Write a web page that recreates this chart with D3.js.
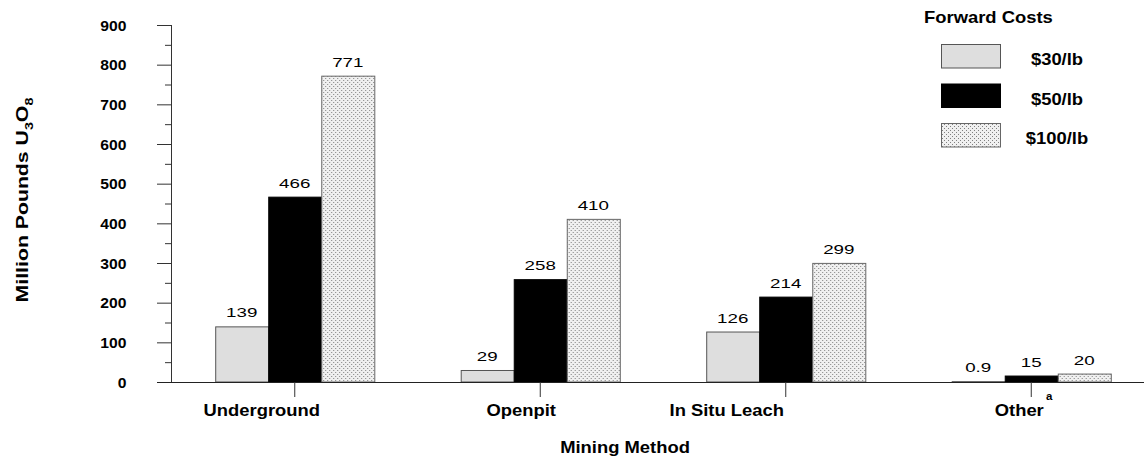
<!DOCTYPE html>
<html>
<head>
<meta charset="utf-8">
<script src="https://cdn.jsdelivr.net/npm/d3@7"></script>
<style>
  html, body { margin: 0; padding: 0; background: #fff; }
  svg { display: block; font-family: "Liberation Sans", Arial, sans-serif; }
</style>
</head>
<body>
<svg id="chart" width="1144" height="459"></svg>
<script>
// ---- data ----
const categories = ["Underground", "Openpit", "In Situ Leach", "Other"];
const seriesNames = ["$30/lb", "$50/lb", "$100/lb"];
const cost30 = [139, 29, 126, 0.9];
const cost50 = [466, 258, 214, 15];
const cost100 = [771, 410, 299, 20];
const yTicks = [0, 100, 200, 300, 400, 500, 600, 700, 800, 900];
const yMinorTicks = [50, 150, 250, 350, 450, 550, 650, 750, 850];
const legendTitle = "Forward Costs";
const xTitle = "Mining Method";

const seriesValues = [cost30, cost50, cost100];

// ---- layout / style (kept separate from data) ----
const W = 1144, H = 459;
const plot = { left: 172, right: 1154, top: 25, bottom: 382 };
const catLabelShift = [-33, -19, -59, -12]; // hand placement offsets of category labels
const fills = ["#dedede", "#000000", "url(#stipple)"];
const strokes = ["#555", "#000", "#666"];

const svg = d3.select("#chart");
const defs = svg.append("defs");
const pat = defs.append("pattern").attr("id", "stipple")
  .attr("patternUnits", "userSpaceOnUse").attr("width", 4).attr("height", 4);
pat.append("rect").attr("width", 4).attr("height", 4).attr("fill", "#f0f0f0");
pat.append("rect").attr("x", 0).attr("y", 0).attr("width", 1).attr("height", 1).attr("fill", "#808080");
pat.append("rect").attr("x", 2).attr("y", 2).attr("width", 1).attr("height", 1).attr("fill", "#808080");

const y = d3.scaleLinear().domain([0, 900]).range([plot.bottom, plot.top]);
const x0 = d3.scaleBand().domain(categories).range([plot.left, plot.right])
  .paddingInner(0.352).paddingOuter(0.176);
const x1 = d3.scaleBand().domain(seriesNames).range([0, x0.bandwidth()]);

function stext(parent, str, x, yy, opts) {
  const o = Object.assign({ size: 16, weight: "bold", anchor: "middle", sx: 1.15 }, opts || {});
  return parent.append("text")
    .attr("transform", `translate(${x},${yy}) scale(${o.sx},1)`)
    .attr("text-anchor", o.anchor)
    .attr("font-size", o.size)
    .attr("font-weight", o.weight)
    .attr("fill", "#000")
    .text(str);
}

// ---- bars ----
const groups = svg.append("g").selectAll("g")
  .data(categories).join("g")
  .attr("transform", d => `translate(${x0(d)},0)`);

groups.each(function (cat, ci) {
  const g = d3.select(this);
  seriesNames.forEach((s, si) => {
    const v = seriesValues[si][ci];
    g.append("rect")
      .attr("x", x1(s) + 0.5)
      .attr("y", y(v))
      .attr("width", x1.bandwidth())
      .attr("height", y(0) - y(v))
      .attr("fill", fills[si])
      .attr("stroke", strokes[si])
      .attr("stroke-width", 1);
    stext(g, String(v), x1(s) + x1.bandwidth() / 2, y(v) - 9.5,
      { size: 12.5, weight: "normal", sx: 1.5 });
  });
});

// ---- y axis ----
const yAxisG = svg.append("g").attr("transform", `translate(${plot.left - 0.5},0)`)
  .call(d3.axisLeft(y).tickValues(yTicks).tickSize(14.5).tickPadding(0).tickFormat(d3.format("d")));
yAxisG.select(".domain").attr("stroke", "#333").attr("d", `M-0,${plot.top}V${plot.bottom}`);
yAxisG.selectAll(".tick line").attr("stroke", "#333");
yAxisG.selectAll(".tick text")
  .attr("x", null).attr("dy", null)
  .attr("transform", "translate(-45,5) scale(1.12,1)")
  .attr("font-size", 14).attr("font-weight", "bold")
  .attr("font-family", "'Liberation Sans', Arial, sans-serif")
  .attr("fill", "#000");

const yMinorG = svg.append("g").attr("transform", `translate(${plot.left - 0.5},0)`)
  .call(d3.axisLeft(y).tickValues(yMinorTicks).tickSize(6.5).tickFormat(""));
yMinorG.select(".domain").remove();
yMinorG.selectAll(".tick line").attr("stroke", "#333");

// ---- x axis ----
svg.append("line")
  .attr("x1", plot.left - 15).attr("x2", W)
  .attr("y1", y(0) + 0.5).attr("y2", y(0) + 0.5)
  .attr("stroke", "#222").attr("stroke-width", 1);

const xAxisG = svg.append("g").attr("transform", `translate(0,${y(0)})`)
  .call(d3.axisBottom(x0).tickSize(15).tickFormat(""));
xAxisG.select(".domain").remove();
xAxisG.selectAll(".tick line").attr("stroke", "#333");

categories.forEach((c, i) => {
  const cx = x0(c) + x0.bandwidth() / 2 + catLabelShift[i];
  stext(svg, c, cx, 415.5);
});
// superscript on "Other"
stext(svg, "a", x0("Other") + x0.bandwidth() / 2 + catLabelShift[3] + 30, 400, { size: 10 });

stext(svg, xTitle, 625, 453);

// ---- y title ----
const yt = svg.append("text")
  .attr("transform", "translate(28,200) rotate(-90) scale(1.25,1)")
  .attr("text-anchor", "middle")
  .attr("font-size", 17).attr("font-weight", "bold").attr("fill", "#000");
yt.append("tspan").text("Million Pounds U");
yt.append("tspan").attr("font-size", 11.5).attr("dy", 5).text("3");
yt.append("tspan").attr("dy", -5).text("O");
yt.append("tspan").attr("font-size", 11.5).attr("dy", 5).text("8");

// ---- legend ----
const lg = svg.append("g");
stext(lg, legendTitle, 924, 23, { anchor: "start" });
seriesNames.forEach((s, i) => {
  const by = 44.5 + i * 39.5;
  lg.append("rect")
    .attr("x", 941.5).attr("y", by).attr("width", 59).attr("height", 23.5)
    .attr("fill", fills[i]).attr("stroke", strokes[i]).attr("stroke-width", 1);
  stext(lg, s, 1057, by + 20.5);
});
</script>
</body>
</html>
